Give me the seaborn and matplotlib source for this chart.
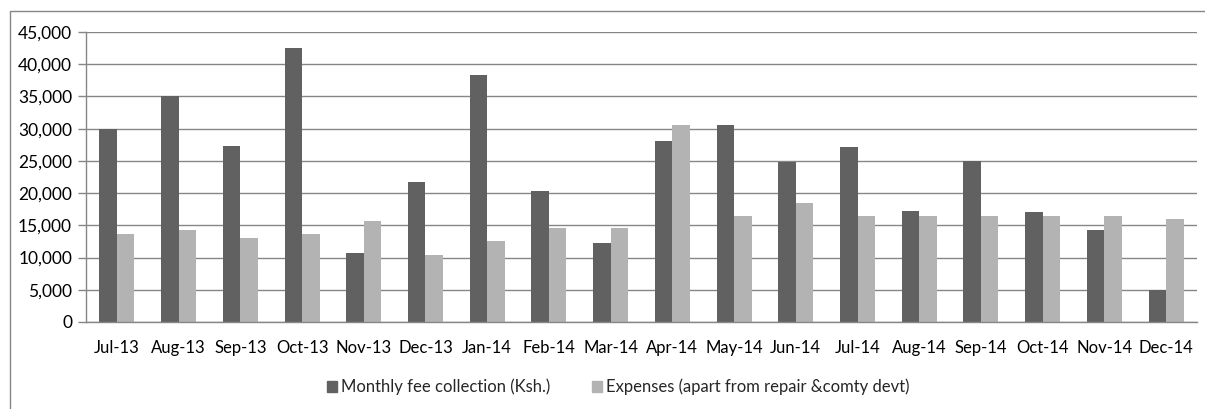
import matplotlib
matplotlib.use("Agg")
import matplotlib.pyplot as plt
import matplotlib.patches as mpatches
from matplotlib.ticker import FuncFormatter, FixedLocator
import seaborn as sns
import pandas as pd

months = ["Jul-13", "Aug-13", "Sep-13", "Oct-13", "Nov-13", "Dec-13",
          "Jan-14", "Feb-14", "Mar-14", "Apr-14", "May-14", "Jun-14",
          "Jul-14", "Aug-14", "Sep-14", "Oct-14", "Nov-14", "Dec-14"]
fee_collection = [30000, 35000, 27300, 42500, 10700, 21800,
                  38400, 20300, 12300, 28100, 30600, 24900,
                  27100, 17200, 25000, 17000, 14200, 5000]
expenses = [13700, 14200, 13000, 13700, 15600, 10400,
            12500, 14600, 14600, 30600, 16500, 18400,
            16500, 16500, 16500, 16500, 16500, 16000]
series_names = ["Monthly fee collection (Ksh.)",
                "Expenses (apart from repair &comty devt)"]
y_ticks = list(range(0, 45001, 5000))

df = pd.DataFrame({
    "month": months * 2,
    "amount": fee_collection + expenses,
    "series": [series_names[0]] * len(months) + [series_names[1]] * len(months),
})

sns.set_theme(style="white")
plt.rcParams["font.family"] = ["Lato", "DejaVu Sans"]

dark, light = "#616161", "#b3b3b3"
axis_gray = "#868686"

fig = plt.figure(figsize=(12.05, 4.09), dpi=100)
ax = fig.add_axes([86 / 1205, 1 - 322 / 409, (1197 - 86) / 1205, (322 - 32) / 409])

sns.barplot(data=df, x="month", y="amount", hue="series", order=months,
            hue_order=series_names, palette=[dark, light], width=0.567,
            gap=0, linewidth=0, saturation=1, errorbar=None, ax=ax)

ax.set_ylim(0, 45000)
ax.set_xlim(-0.5, len(months) - 0.5)
ax.yaxis.set_major_locator(FixedLocator(y_ticks))
ax.yaxis.set_major_formatter(FuncFormatter(lambda v, p: f"{int(v):,}"))
ax.set_xlabel("")
ax.set_ylabel("")

ax.grid(axis="y", color=axis_gray, linewidth=1)
ax.set_axisbelow(True)
for side in ("top", "right"):
    ax.spines[side].set_visible(False)
for side in ("left", "bottom"):
    ax.spines[side].set_color(axis_gray)
    ax.spines[side].set_linewidth(1)

ax.set_xticks([i - 0.5 for i in range(len(months) + 1)], minor=True)
ax.tick_params(axis="x", which="major", length=0, pad=13, labelsize=12, colors="black")
ax.tick_params(axis="x", which="minor", length=6, width=1, color=axis_gray, direction="out")
ax.tick_params(axis="y", length=6, width=1, color=axis_gray, direction="out",
               labelsize=12.5, labelcolor="black", pad=4, left=True)

ax.get_legend().remove()
handles = [mpatches.Patch(color=dark, label=series_names[0]),
           mpatches.Patch(color=light, label=series_names[1])]
fig.legend(handles=handles, loc="center", bbox_to_anchor=(618.5 / 1205, 1 - 387 / 409),
           ncol=2, frameon=False, fontsize=12, handlelength=0.6, handleheight=0.6,
           handletextpad=0.25, columnspacing=2.5, borderpad=0)

# outer chart frame
fig.add_artist(mpatches.Rectangle((10 / 1205, -0.05), 1.2, 1 - 11 / 409 + 0.05,
                                  transform=fig.transFigure, fill=False,
                                  edgecolor=axis_gray, linewidth=1))

fig.savefig("out.png", dpi=100, facecolor="white")
